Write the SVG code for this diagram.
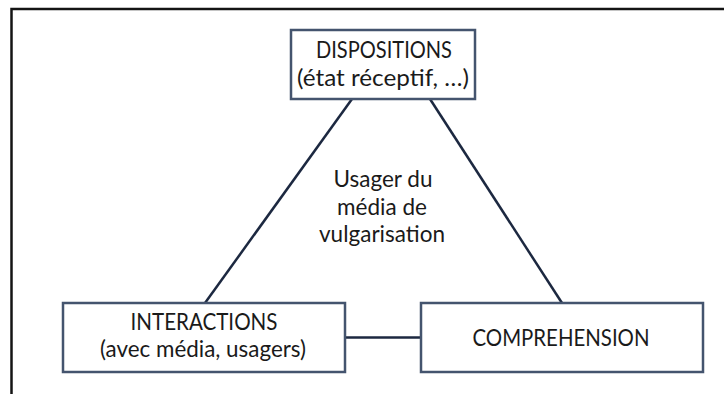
<svg xmlns="http://www.w3.org/2000/svg" width="724" height="394" viewBox="0 0 724 394">
<style>
.box{fill:#ffffff;stroke:#44546e;stroke-width:2.5}
.edge{stroke:#1c2840;stroke-width:2.5;fill:none}
text{font-family:Lato,"Open Sans","Liberation Sans",sans-serif;font-size:22.5px;fill:#1a1a1a;text-anchor:middle}
</style>
<rect x="0" y="0" width="724" height="394" fill="#ffffff"/>
<path d="M11.5,394 V9 H724" fill="none" stroke="#141414" stroke-width="2.5"/>
<g id="connectors">
<line class="edge" x1="352" y1="99" x2="205" y2="303"/>
<line class="edge" x1="430" y1="99" x2="562" y2="303"/>
<line class="edge" x1="345" y1="337.5" x2="421" y2="337.5"/>
</g>
<g id="dispositions">
<rect class="box" x="291" y="30" width="184" height="69"/>
<text x="384" y="58" textLength="136" lengthAdjust="spacingAndGlyphs">DISPOSITIONS</text>
<text x="383" y="86" textLength="172" lengthAdjust="spacingAndGlyphs">(état réceptif, …)</text>
</g>
<g id="interactions">
<rect class="box" x="63" y="303" width="282" height="69"/>
<text x="204" y="330" textLength="147" lengthAdjust="spacingAndGlyphs">INTERACTIONS</text>
<text x="203" y="357" textLength="206" lengthAdjust="spacingAndGlyphs">(avec média, usagers)</text>
</g>
<g id="comprehension">
<rect class="box" x="421" y="303" width="282" height="69"/>
<text x="561" y="346" textLength="177" lengthAdjust="spacingAndGlyphs">COMPREHENSION</text>
</g>
<g id="center-label">
<text x="383" y="187">Usager du</text>
<text x="382" y="215">média de</text>
<text x="382" y="242" textLength="126" lengthAdjust="spacingAndGlyphs">vulgarisation</text>
</g>
</svg>
